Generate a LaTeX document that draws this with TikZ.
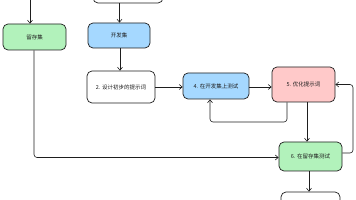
\documentclass[tikz,border=0pt]{standalone}
\usepackage{fontspec}
\setmainfont{Noto Sans CJK SC}
\usetikzlibrary{arrows.meta}
\definecolor{stk}{HTML}{1E1E1E}
\definecolor{gfill}{HTML}{B2F2BB}
\definecolor{bfill}{HTML}{A5D8FF}
\definecolor{pfill}{HTML}{FFC9C9}
\tikzset{
  box/.style={draw=stk, line width=0.7pt, rounded corners=5pt, inner sep=0pt, font=\fontsize{5.5}{6.5}\selectfont, text=stk},
  conn/.style={draw=stk, line width=0.6pt, rounded corners=3pt, -{Straight Barb[length=3pt,width=5pt]}},
}
\begin{document}
\begin{tikzpicture}[x=1pt,y=-1pt]
\useasboundingbox (0,0) rectangle (356,200);
\node[box, fill=white, minimum width=70pt, minimum height=28pt] (top) at (128,-11) {};
\node[box, fill=gfill, minimum width=63pt, minimum height=26pt] (liucun) at (34.5,37) {留存集};
\node[box, fill=bfill, minimum width=62pt, minimum height=25pt] (kaifa) at (119,35.5) {开发集};
\node[box, fill=white, minimum width=68pt, minimum height=32pt] (n2) at (121,87) {2. 设计初步的提示词};
\node[box, fill=bfill, minimum width=66pt, minimum height=26pt] (n4) at (216,86) {4. 在开发集上测试};
\node[box, fill=pfill, minimum width=63pt, minimum height=35pt] (n5) at (303.5,84.5) {5. 优化提示词};
\node[box, fill=gfill, minimum width=63pt, minimum height=29pt] (n6) at (310.5,156.5) {6. 在留存集测试};
\node[box, fill=white, minimum width=59pt, minimum height=28pt] (n7) at (310.5,206) {};
\coordinate (lin) at (30,-6);
\draw[conn] (lin) -- (lin |- liucun.north);
\draw[conn] (119.5,0 |- top.south) -- (119.5,0 |- kaifa.north);
\draw[conn] (120,0 |- kaifa.south) -- (120,0 |- n2.north);
\draw[conn] (34,0 |- liucun.south) -- (34,157.5) -- (n6.west |- 0,157.5);
\draw[conn] (n2.east |- 0,87) -- (n4.west |- 0,87);
\draw[conn] (n4.east |- 0,87) -- (n5.west |- 0,87);
\draw[conn] (287,0 |- n5.south) -- (287,122) -- (210,122) -- (210,0 |- n4.south);
\draw[conn] (307,0 |- n5.south) -- (307,0 |- n6.north);
\draw[conn] (n6.east |- 0,153) -- (353,153) -- (353,84.5) -- (n5.east);
\draw[conn] (309,0 |- n6.south) -- (309,0 |- n7.north);
\end{tikzpicture}
\end{document}
